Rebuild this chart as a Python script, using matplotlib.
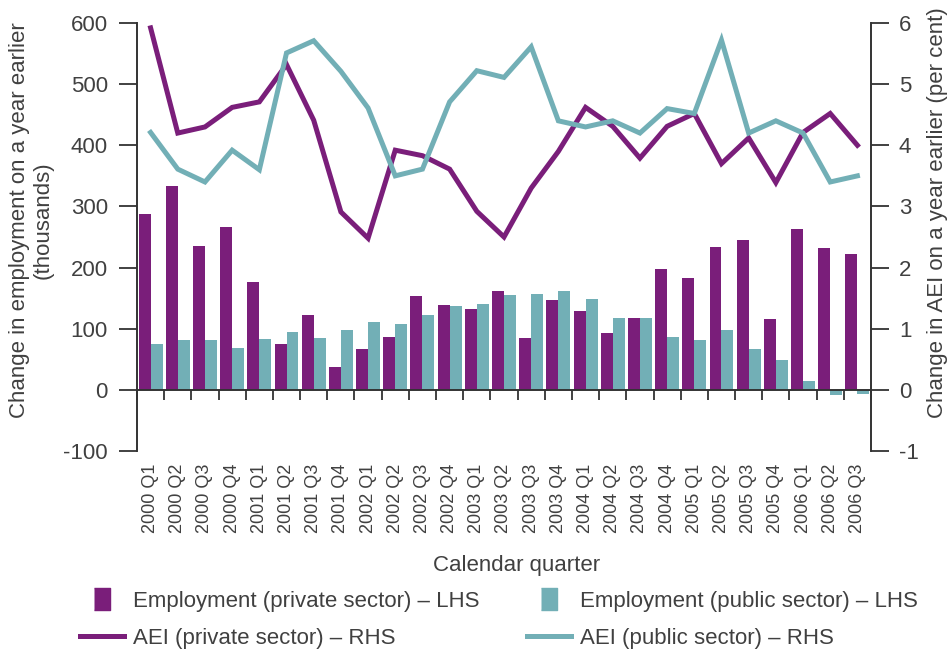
import numpy as np
import matplotlib
matplotlib.use("Agg")
import matplotlib.pyplot as plt
from matplotlib.lines import Line2D

plt.rcParams['font.family'] = ['Liberation Sans', 'DejaVu Sans']

quarters = ["2000 Q1", "2000 Q2", "2000 Q3", "2000 Q4",
            "2001 Q1", "2001 Q2", "2001 Q3", "2001 Q4",
            "2002 Q1", "2002 Q2", "2002 Q3", "2002 Q4",
            "2003 Q1", "2003 Q2", "2003 Q3", "2003 Q4",
            "2004 Q1", "2004 Q2", "2004 Q3", "2004 Q4",
            "2005 Q1", "2005 Q2", "2005 Q3", "2005 Q4",
            "2006 Q1", "2006 Q2", "2006 Q3"]

emp_private = [288, 333, 235, 266, 176, 75, 122, 38, 67, 87, 154, 139, 132, 162,
               85, 147, 129, 93, 118, 198, 183, 234, 245, 116, 263, 232, 222]
emp_public = [75, 82, 82, 69, 83, 95, 85, 98, 111, 108, 122, 137, 141, 155,
              157, 162, 149, 118, 118, 87, 82, 98, 67, 49, 15, -8, -6]
aei_private = [5.92, 4.2, 4.3, 4.62, 4.71, 5.32, 4.41, 2.91, 2.48, 3.92, 3.83, 3.61,
               2.92, 2.5, 3.3, 3.9, 4.62, 4.31, 3.79, 4.31, 4.52, 3.7, 4.12, 3.39,
               4.21, 4.52, 4.0]
aei_public = [4.21, 3.61, 3.4, 3.92, 3.6, 5.51, 5.71, 5.21, 4.61, 3.5, 3.61, 4.71,
              5.22, 5.11, 5.61, 4.4, 4.3, 4.4, 4.2, 4.6, 4.52, 5.72, 4.2, 4.4,
              4.2, 3.4, 3.5]

left_ticks = [-100, 0, 100, 200, 300, 400, 500, 600]
right_ticks = [-1, 0, 1, 2, 3, 4, 5, 6]

purple = '#7A1E7A'
teal = '#72AFB6'
txt = '#404040'
dark = '#333333'

W, H = 947, 650
fig = plt.figure(figsize=(W / 100, H / 100), dpi=100)
ax = fig.add_axes([137 / W, 1 - 451 / H, (871 - 137) / W, (451 - 23) / H])

x = np.arange(len(quarters))
w = 0.44
ax.bar(x - w / 2, emp_private, w, color=purple, zorder=1)
ax.bar(x + w / 2, emp_public, w, color=teal, zorder=1)
ax.set_xlim(-0.5, len(quarters) - 0.5)
ax.set_ylim(-100, 600)
ax.set_yticks(left_ticks)
ax.set_yticklabels([str(v) for v in left_ticks])

for s in ['top', 'right']:
    ax.spines[s].set_visible(False)
ax.spines['bottom'].set_position(('data', 0))
for s in ['left', 'bottom']:
    ax.spines[s].set_color(dark)
    ax.spines[s].set_linewidth(1.4)

ax.set_xticks(x)
ax.set_xticklabels(quarters, rotation=90, fontsize=13, color=txt)
ax.tick_params(axis='x', which='major', length=0, pad=53)
ax.set_xticks(np.arange(-0.5, len(quarters), 1.0), minor=True)
ax.tick_params(axis='x', which='minor', length=7, width=1.3, color=dark, direction='out')
ax.tick_params(axis='y', length=13, width=1.3, color=dark, labelsize=16,
               labelcolor=txt, pad=8, direction='out')

ax2 = ax.twinx()
ax2.plot(x, aei_private, color=purple, lw=3.6, solid_joinstyle='miter')
ax2.plot(x, aei_public, color=teal, lw=3.6, solid_joinstyle='miter')
ax2.set_ylim(-1, 6)
ax2.set_yticks(right_ticks)
ax2.set_yticklabels([str(v) for v in right_ticks])
for s in ['top', 'left', 'bottom']:
    ax2.spines[s].set_visible(False)
ax2.spines['right'].set_color(dark)
ax2.spines['right'].set_linewidth(1.4)
ax2.tick_params(axis='y', which='major', direction='out', length=13, width=1.3,
                color=dark, labelsize=16, labelcolor=txt, pad=7)

fig.text(31 / W, 1 - 220 / H, "Change in employment on a year earlier\n(thousands)",
         rotation=90, ha='center', va='center', multialignment='center',
         fontsize=16, color=txt, linespacing=1.15)
fig.text(937 / W, 1 - 213 / H, "Change in AEI on a year earlier (per cent)",
         rotation=90, ha='center', va='center', fontsize=16, color=txt)
fig.text(517 / W, 1 - 565 / H, "Calendar quarter", ha='center', va='center',
         fontsize=16, color=txt)

rect = [(-0.38, -0.5), (0.38, -0.5), (0.38, 0.5), (-0.38, 0.5)]
h_pb = Line2D([], [], marker=rect, linestyle='none', markersize=16, color=purple)
h_qb = Line2D([], [], marker=rect, linestyle='none', markersize=16, color=teal)
h_pl = Line2D([], [], color=purple, lw=3.6)
h_ql = Line2D([], [], color=teal, lw=3.6)
leg = fig.legend([h_pb, h_pl, h_qb, h_ql],
                 ["Employment (private sector) – LHS", "AEI (private sector) – RHS",
                  "Employment (public sector) – LHS", "AEI (public sector) – RHS"],
                 ncol=2, loc='upper left', bbox_to_anchor=(80 / W, 1 - 591 / H),
                 frameon=False, fontsize=16, handlelength=2.0, handletextpad=0.4,
                 columnspacing=2.1, labelspacing=0.72, borderpad=0, borderaxespad=0)
for t in leg.get_texts():
    t.set_color(txt)

fig.savefig("out.png", dpi=100)
